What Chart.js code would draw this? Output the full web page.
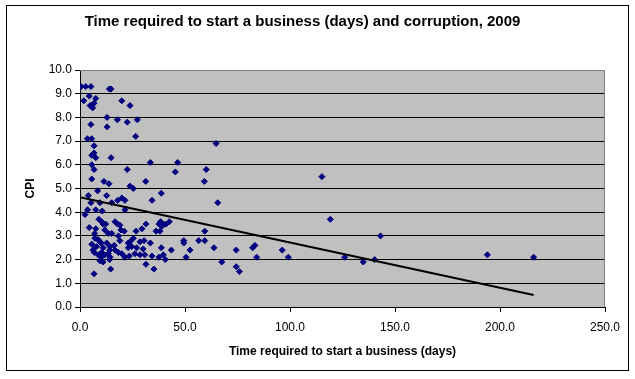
<!DOCTYPE html>
<html><head><meta charset="utf-8">
<script src="https://cdn.jsdelivr.net/npm/chart.js@4/dist/chart.umd.min.js"></script>
<style>html,body{margin:0;padding:0;background:#fff}</style>
</head><body>
<canvas id="c" width="635" height="379"></canvas>
<script>
const chartTitle = "Time required to start a business (days) and corruption, 2009";
const xAxisTitle = "Time required to start a business (days)";
const yAxisTitle = "CPI";
const xTickValues = [0, 50, 100, 150, 200, 250];
const yTickValues = [0,1,2,3,4,5,6,7,8,9,10];

// Time required to start a business (days)
const daysToStart = [
  0.5,2.7,5.2,14.0,14.8,
  1.8,4.4,7.5,6.7,5.6,4.8,6.0,19.9,23.8,
  12.9,5.2,12.9,17.8,22.5,27.3,26.5,3.5,5.6,
  6.7,6.7,5.6,7.5,14.8,5.6,6.7,22.5,
  5.6,11.4,13.8,23.8,25.4,31.3,
  64.8,33.5,46.5,45.4,60.1,59.2,
  38.7,34.3,65.6,59.4,38.4,37.6,39.7,41.0,42.5,39.0,36.2,38.1,31.4,29.5,
  30.5,30.1,33.5,38.7,43.5,49.4,49.4,52.4,56.5,59.4,63.8,74.4,30.8,34.3,37.6,39.7,40.6,50.5,31.4,35.2,67.5,74.4,75.9,
  82.2,83.3,84.1,96.3,99.2,119.2,126.0,134.9,140.3,143.1,194.0,216.0,115.2,
  4.0,8.4,5.2,12.7,17.9,19.9,21.4,9.5,7.5,3.6,2.4,10.6,9.0,10.3,12.2,16.7,17.9,19.5,21.1,4.4,7.5,13.5,18.3,26.7,25.4,7.1,
  5.6,7.9,9.5,12.7,14.3,16.3,19.0,23.0,24.6,27.0,28.6,6.8,8.7,10.3,13.5,16.7,19.9,21.4,23.5,26.2,9.5,14.3,28.6,6.7,14.6,
  11.0,11.8,7.0,8.6,10.1,6.2,11.0,14.1,10.1,11.8,11.0,14.1,21.4,15.1,19.0,15.1,23.8,23.0,18.3
];
// Corruption Perceptions Index
const cpiScore = [
  9.3,9.3,9.3,9.2,9.2,
  8.7,8.9,8.8,8.6,8.5,8.5,8.4,8.7,8.5,
  8.0,7.7,7.6,7.9,7.8,7.9,7.2,7.1,7.1,
  6.8,6.5,6.4,6.3,6.3,6.0,5.8,5.8,
  5.4,5.3,5.2,5.1,5.0,5.3,
  6.9,6.1,6.1,5.7,5.8,5.3,
  4.8,4.5,4.4,3.2,3.6,3.5,3.5,3.5,3.6,3.4,3.2,3.2,3.5,3.3,
  2.8,2.45,2.7,2.5,2.4,2.8,2.7,2.4,2.8,2.8,2.5,2.4,2.2,2.15,2.1,2.2,2.0,2.1,1.8,1.6,1.9,1.7,1.5,
  2.5,2.6,2.1,2.4,2.1,3.7,2.1,1.9,2.0,3.0,2.2,2.1,5.5,
  4.7,4.9,4.4,4.7,4.5,4.6,4.5,4.4,4.1,4.1,3.9,4.05,3.7,3.6,3.5,3.6,3.5,3.25,3.2,3.35,3.3,3.1,3.0,3.2,2.9,2.9,
  2.65,2.55,2.75,2.7,2.55,2.6,2.8,2.7,2.55,2.5,2.75,2.3,2.2,2.3,2.25,2.4,2.25,2.1,2.15,2.25,1.95,2.1,2.2,1.4,1.6,
  3.5,3.25,3.1,2.85,2.7,2.4,2.5,2.4,2.1,2.2,1.9,2.0,4.1,4.4,3.45,3.1,2.75,2.5,2.3
];

const points = daysToStart.map((d, i) => ({x: d, y: cpiScore[i]}));

// Linear least-squares trend line over the data
const n = points.length;
const mx = daysToStart.reduce((a,b)=>a+b,0)/n;
const my = cpiScore.reduce((a,b)=>a+b,0)/n;
let sxy = 0, sxx = 0;
for (let i=0;i<n;i++){ sxy += (daysToStart[i]-mx)*(cpiScore[i]-my); sxx += (daysToStart[i]-mx)**2; }
const slope = sxy/sxx, intercept = my - slope*mx;
const xMin = Math.min(...daysToStart), xMax = Math.max(...daysToStart);
const trend = [{x:xMin, y:intercept+slope*xMin},{x:xMax, y:intercept+slope*xMax}];

const FONT = "'Liberation Sans', Arial, sans-serif";

const framePlugin = {
  id: 'frame',
  beforeDraw(chart) {
    const {ctx, chartArea: a} = chart;
    ctx.save();
    ctx.fillStyle = '#fff';
    ctx.fillRect(0,0,chart.width,chart.height);
    ctx.fillStyle = '#C0C0C0';
    ctx.fillRect(a.left, a.top, a.right-a.left, a.bottom-a.top);
    ctx.restore();
  },
  afterDraw(chart) {
    const {ctx, chartArea: a} = chart;
    ctx.save();
    ctx.strokeStyle = '#808080';
    ctx.lineWidth = 1;
    ctx.beginPath();
    ctx.moveTo(a.left, a.top+0.5); ctx.lineTo(a.right-0.5, a.top+0.5); ctx.lineTo(a.right-0.5, a.bottom);
    ctx.stroke();
    ctx.strokeStyle = '#000';
    ctx.strokeRect(6.5, 5.5, 622, 365);
    ctx.restore();
  }
};

new Chart(document.getElementById('c'), {
  type: 'scatter',
  data: {
    datasets: [
      { type: 'line', data: trend, borderColor: '#000', borderWidth: 2, pointRadius: 0, fill: false, order: 0 },
      { data: points, pointStyle: 'rectRot', pointRadius: 3, pointHoverRadius: 3,
        backgroundColor: '#000080', borderColor: '#000080', borderWidth: 1, order: 1 }
    ]
  },
  options: {
    responsive: false, animation: false, devicePixelRatio: 1,
    layout: { padding: { left: 0, right: 30, top: 0, bottom: 0 } },
    plugins: {
      legend: { display: false }, tooltip: { enabled: false },
      title: { display: true, text: chartTitle, color: '#000',
        font: { family: FONT, size: 15, weight: 'bold' }, padding: { top: 13, bottom: 39 } }
    },
    scales: {
      x: {
        type: 'linear', min: 0, max: 250,
        afterBuildTicks(s){ s.ticks = xTickValues.map(v=>({value:v})); },
        afterFit(s){ s.height = 72; },
        ticks: { color: '#000', font: { family: FONT, size: 12 }, padding: 8, maxRotation: 0,
          callback: v => Number(v).toFixed(1) },
        grid: { drawOnChartArea: false, color: '#000', tickLength: 5, tickColor: '#000' },
        border: { color: '#000', width: 1 },
        title: { display: true, text: xAxisTitle, color: '#000',
          font: { family: FONT, size: 12, weight: 'bold' }, padding: { top: 0, bottom: 20 } }
      },
      y: {
        type: 'linear', min: 0, max: 10,
        afterBuildTicks(s){ s.ticks = yTickValues.map(v=>({value:v})); },
        afterFit(s){ s.width = 80; },
        ticks: { color: '#000', font: { family: FONT, size: 12 }, padding: 3,
          callback: v => Number(v).toFixed(1) },
        grid: { color: ctx => (ctx.tick && ctx.tick.value === 10) ? '#808080' : '#000',
          tickColor: '#000', tickLength: 5, lineWidth: 1 },
        border: { color: '#000', width: 1 },
        title: { display: true, text: yAxisTitle, color: '#000',
          font: { family: FONT, size: 12, weight: 'bold' }, padding: { top: 23, bottom: 0 } }
      }
    }
  },
  plugins: [framePlugin]
});
</script>
</body></html>
